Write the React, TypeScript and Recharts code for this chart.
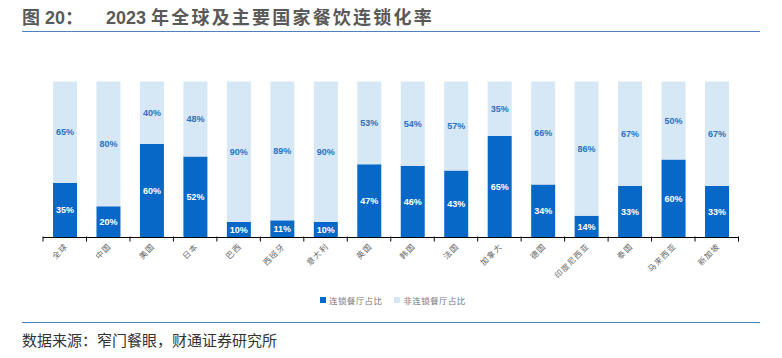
import React from 'react';
import { BarChart, Bar, XAxis, YAxis, LabelList } from 'recharts';

const categories = ['全球', '中国', '美国', '日本', '巴西', '西班牙', '意大利', '英国', '韩国', '法国', '加拿大', '德国', '印度尼西亚', '泰国', '马来西亚', '新加坡'];
const chainShare = [35, 20, 60, 52, 10, 11, 10, 47, 46, 43, 65, 34, 14, 33, 50, 33];
const nonChainShare = [65, 80, 40, 48, 90, 89, 90, 53, 54, 57, 35, 66, 86, 67, 50, 67];
const chainLabels = ['35%', '20%', '60%', '52%', '10%', '11%', '10%', '47%', '46%', '43%', '65%', '34%', '14%', '33%', '60%', '33%'];
const nonChainLabels = ['65%', '80%', '40%', '48%', '90%', '89%', '90%', '53%', '54%', '57%', '35%', '66%', '86%', '67%', '50%', '67%'];

const data = categories.map((c, i) => ({
  name: c,
  chain: chainShare[i],
  nonChain: nonChainShare[i],
  chainLabel: chainLabels[i],
  nonChainLabel: nonChainLabels[i],
}));

const FONT = '"Liberation Sans", "Noto Sans CJK SC", sans-serif';
const CJK = '"Noto Sans CJK SC", sans-serif';
const DARK = '#0868C8';
const LIGHT = '#D6E7F6';

const PLOT_LEFT = 43;
const PLOT_RIGHT = 738.5;
const PLOT_TOP = 81.5;
const PLOT_BOTTOM = 237.5;
const AXIS_H = 30;
const BAND = (PLOT_RIGHT - PLOT_LEFT) / categories.length;

const CategoryTick = (props: any) => {
  const { x, payload, index } = props;
  const axisY = PLOT_BOTTOM;
  const lines = [
    <line key="l" x1={x - BAND / 2} x2={x - BAND / 2} y1={axisY - 1} y2={axisY + 4} stroke="#000" strokeWidth={1} />,
  ];
  if (index === categories.length - 1) {
    lines.push(<line key="r" x1={x + BAND / 2} x2={x + BAND / 2} y1={axisY - 1} y2={axisY + 4} stroke="#000" strokeWidth={1} />);
  }
  return (
    <g>
      {lines}
      <text
        x={x + 1}
        y={axisY + 7}
        transform={`rotate(-45 ${x + 1} ${axisY + 7})`}
        textAnchor="end"
        fontSize={8}
        letterSpacing={1}
        fill="#666"
        fontFamily={CJK}
        dominantBaseline="central"
      >
        {payload.value}
      </text>
    </g>
  );
};

export default function App() {
  return (
    <div style={{ position: 'absolute', left: 0, top: 0, width: 782, height: 358, background: '#fff', fontFamily: FONT }}>
      <div style={{ position: 'absolute', left: 22, top: 6, fontSize: 18, fontWeight: 'bold', color: '#595959', whiteSpace: 'pre', lineHeight: '24px' }}>
        图 20：
      </div>
      <div style={{ position: 'absolute', left: 106, top: 6, fontSize: 18, fontWeight: 'bold', color: '#595959', whiteSpace: 'pre', lineHeight: '24px' }}>
        {'2023 '}<span style={{ letterSpacing: 2.2 }}>年全球及主要国家餐饮连锁化率</span>
      </div>
      <div style={{ position: 'absolute', left: 22, top: 31, width: 738, height: 0, borderTop: '1.5px solid #4F81BD' }} />
      <div style={{ position: 'absolute', left: 0, top: 0 }}>
        <BarChart
          width={782}
          height={358}
          data={data}
          margin={{ top: PLOT_TOP, left: PLOT_LEFT, right: 782 - PLOT_RIGHT, bottom: 358 - PLOT_BOTTOM - AXIS_H }}
          barSize={24}
        >
          <YAxis hide domain={[0, 100]} />
          <XAxis
            dataKey="name"
            interval={0}
            tickLine={false}
            axisLine={{ stroke: '#000', strokeWidth: 1.2 }}
            tick={<CategoryTick />}
            height={AXIS_H}
          />
          <Bar dataKey="chain" stackId="a" fill={DARK} isAnimationActive={false}>
            <LabelList dataKey="chainLabel" position="center" fill="#fff" fontSize={9} fontWeight="bold" fontFamily={FONT} />
          </Bar>
          <Bar dataKey="nonChain" stackId="a" fill={LIGHT} isAnimationActive={false}>
            <LabelList dataKey="nonChainLabel" position="center" fill="#2A72BE" fontSize={9} fontWeight="bold" fontFamily={FONT} />
          </Bar>
        </BarChart>
      </div>
      <div style={{ position: 'absolute', left: 320, top: 294, display: 'flex', fontFamily: CJK, fontSize: 8.5, color: '#777', lineHeight: '12px' }}>
        <span style={{ display: 'inline-flex', alignItems: 'center', marginRight: 12 }}>
          <span style={{ width: 6, height: 6, background: DARK, display: 'inline-block', marginRight: 3 }} />
          <span style={{ letterSpacing: 0.4 }}>连锁餐厅占比</span>
        </span>
        <span style={{ display: 'inline-flex', alignItems: 'center' }}>
          <span style={{ width: 6, height: 6, background: LIGHT, display: 'inline-block', marginRight: 3 }} />
          <span style={{ letterSpacing: 0.4 }}>非连锁餐厅占比</span>
        </span>
      </div>
      <div style={{ position: 'absolute', left: 22, top: 322, width: 738, height: 0, borderTop: '1.5px solid #4F81BD' }} />
      <div style={{ position: 'absolute', left: 22, top: 330, fontSize: 15, color: '#333', lineHeight: '20px', fontFamily: CJK }}>
        数据来源：窄门餐眼，财通证券研究所
      </div>
    </div>
  );
}
